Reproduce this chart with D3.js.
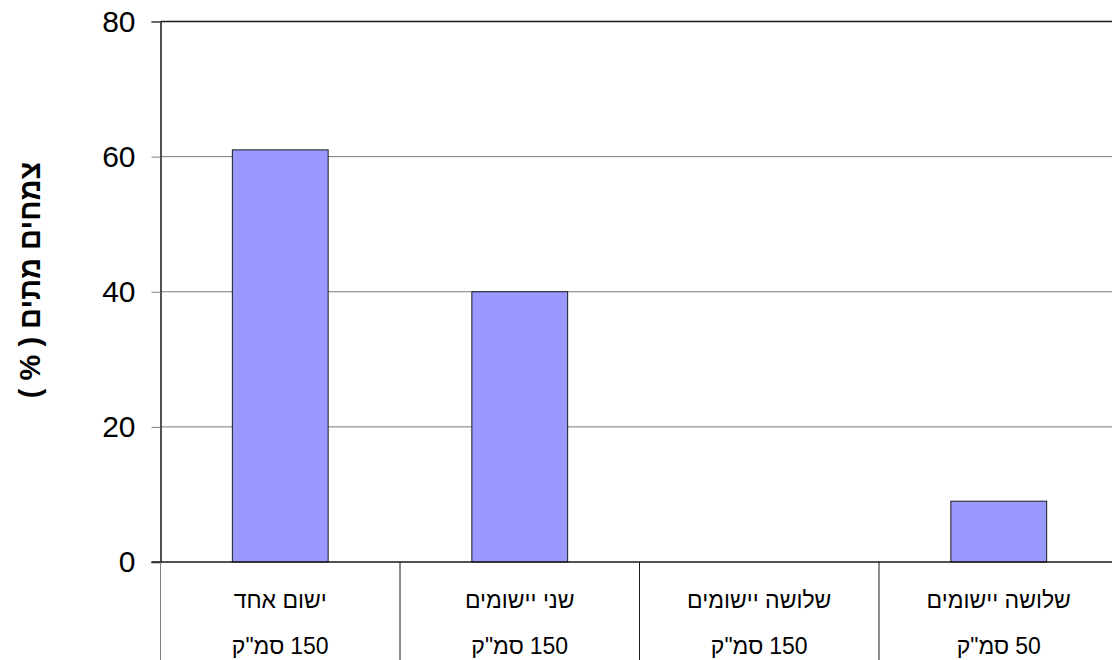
<!DOCTYPE html>
<html>
<head>
<meta charset="utf-8">
<script src="https://cdn.jsdelivr.net/npm/d3@7"></script>
<style>
  body { margin: 0; background: #fff; }
  text { font-family: "Liberation Sans", Arial, sans-serif; }
</style>
</head>
<body>
<div id="chart"></div>
<script>
// chart data
const line1 = ["ישום אחד", "שני יישומים", "שלושה יישומים", "שלושה יישומים"];
const units = ["סמ\"ק", "סמ\"ק", "סמ\"ק", "סמ\"ק"];
const doses = [150, 150, 150, 50];
const values = [61, 40, 0, 9];
const yTicks = [0, 20, 40, 60, 80];
const yLabel = "צמחים מתים ( % )";

const W = 1112, H = 660;
const margin = {top: 21.5, left: 160.5};
const plotW = 958; // runs past the right edge of the picture
const plotH = 562 - margin.top;

var svg = d3.select("#chart")
    .append("svg")
    .attr("width", W)
    .attr("height", H);

var g = svg.append("g")
    .attr("transform", "translate(" + margin.left + "," + margin.top + ")");

var x = d3.scaleBand()
    .domain(d3.range(values.length))
    .range([0, plotW]);

var y = d3.scaleLinear()
    .domain([0, 80])
    .range([plotH, 0]);

// grid lines
g.selectAll("line.grid")
    .data(yTicks.filter(d => d > 0 && d < 80))
    .enter().append("line")
    .attr("class", "grid")
    .attr("x1", 0)
    .attr("x2", plotW)
    .attr("y1", d => y(d))
    .attr("y2", d => y(d))
    .attr("stroke", "#7a7a7a")
    .attr("stroke-width", 1);

// top border
g.append("line")
    .attr("x1", 0).attr("x2", plotW)
    .attr("y1", 0).attr("y2", 0)
    .attr("stroke", "#1a1a1a").attr("stroke-width", 1.5);

// bars
var bw = x.bandwidth() * 0.4;
g.selectAll("rect.bar")
    .data(values)
    .enter().append("rect")
    .attr("class", "bar")
    .attr("x", (d, i) => x(i) + (x.bandwidth() - bw) / 2)
    .attr("y", d => y(d))
    .attr("width", bw)
    .attr("height", d => y(0) - y(d))
    .attr("fill", "#9999ff")
    .attr("stroke", "#1a1a1a")
    .attr("stroke-width", 1);

// y axis
var yAxis = g.append("g")
    .call(d3.axisLeft(y).tickValues(yTicks).tickSize(9).tickPadding(16));
yAxis.select(".domain").attr("stroke", "#1a1a1a").attr("stroke-width", 1.5);
yAxis.selectAll(".tick line").attr("stroke", "#808080");
yAxis.selectAll(".tick text")
    .style("font-size", "30px")
    .attr("fill", "#000");

// x axis baseline and category dividers
g.append("line")
    .attr("x1", -9).attr("x2", plotW)
    .attr("y1", plotH).attr("y2", plotH)
    .attr("stroke", "#1a1a1a").attr("stroke-width", 1.5);

g.selectAll("line.divider")
    .data(d3.range(values.length))
    .enter().append("line")
    .attr("class", "divider")
    .attr("x1", d => x(d))
    .attr("x2", d => x(d))
    .attr("y1", plotH)
    .attr("y2", H)
    .attr("stroke", d => d === 0 ? "#808080" : "#1a1a1a")
    .attr("stroke-width", 1);

// category labels
g.selectAll("text.cat1")
    .data(line1)
    .enter().append("text")
    .attr("class", "cat1")
    .attr("x", (d, i) => x(i) + x.bandwidth() / 2)
    .attr("y", 586.5)
    .attr("text-anchor", "middle")
    .style("direction", "rtl")
    .style("font-size", "23px")
    .text(d => d);

// second line: unit on the left, dose on the right (drawn apart so bidi can't flip them)
var cat2 = g.selectAll("g.cat2")
    .data(doses)
    .enter().append("g")
    .attr("class", "cat2")
    .attr("transform", "translate(0,632.5)");

cat2.append("text")
    .attr("class", "unit")
    .attr("text-anchor", "start")
    .style("font-size", "23px")
    .text((d, i) => units[i]);

cat2.append("text")
    .attr("class", "dose")
    .attr("text-anchor", "start")
    .style("font-size", "23px")
    .text(d => d);

cat2.each(function(d, i) {
    var grp = d3.select(this);
    var uw = grp.select(".unit").node().getComputedTextLength();
    var nw = grp.select(".dose").node().getComputedTextLength();
    var gap = 6;
    var left = x(i) + x.bandwidth() / 2 - (uw + gap + nw) / 2;
    grp.select(".unit").attr("x", left);
    grp.select(".dose").attr("x", left + uw + gap);
});

// y axis title
svg.append("text")
    .attr("transform", "translate(40,280) rotate(-90)")
    .attr("text-anchor", "middle")
    .style("direction", "rtl")
    .style("font-size", "29px")
    .style("font-weight", "bold")
    .text(yLabel);
</script>
</body>
</html>
